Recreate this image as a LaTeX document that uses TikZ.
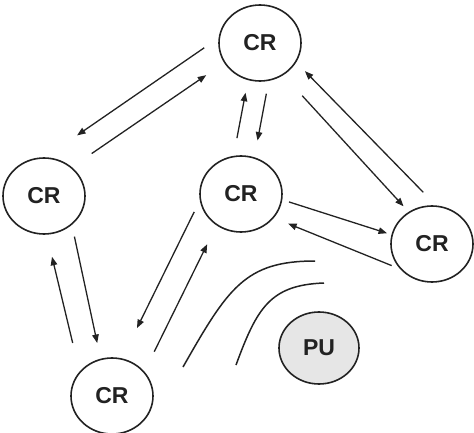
\documentclass[tikz,border=0pt]{standalone}
\usepackage{fontspec}
\setmainfont{Liberation Sans}
\usetikzlibrary{shapes.geometric,arrows.meta}
\definecolor{pugray}{HTML}{E6E6E6}
\definecolor{inkgray}{HTML}{222222}

\begin{document}
\begin{tikzpicture}[x=1pt, y=-1pt]
    \tikzstyle{crnode} = [ellipse, draw=inkgray, line width=1.6pt, inner sep=0pt, minimum width=82pt, minimum height=76pt, text=inkgray, font=\fontsize{23}{23}\selectfont\bfseries]
    \tikzstyle{link} = [draw=inkgray, line width=1.3pt, -{Triangle[length=8.5pt,width=6.5pt]}]
    \tikzstyle{wave} = [draw=inkgray, line width=1.5pt]

    \useasboundingbox (0,0) rectangle (474,433);

    % Radios
    \node[crnode] (crtop) at (260,43) {CR};
    \node[crnode] (crleft) at (44,196) {CR};
    \node[crnode] (crmid) at (241,194) {CR};
    \node[crnode] (crright) at (432,244) {CR};
    \node[crnode] (crbot) at (112,396) {CR};
    \node[crnode, fill=pugray, minimum width=80pt, minimum height=72pt] (pu) at (319,348) {PU};

    % Links
    \draw[link, shorten <=17.4pt, shorten >=38.5pt] (crtop.173) -- (crleft.88);
    \draw[link, shorten <=24pt, shorten >=21.7pt] (crleft.46) -- (crtop.209);
    \draw[link, shorten <=18pt, shorten >=12.8pt] (crmid.101) -- (crtop.252);
    \draw[link, shorten <=13pt, shorten >=17pt] (crtop.283) -- (crmid.70);
    \draw[link, shorten <=27.9pt, shorten >=7.5pt] (crtop.306) -- (crright.126);
    \draw[link, shorten <=18.3pt, shorten >=12.4pt] (crright.84) -- (crtop.332);
    \draw[link, shorten <=7pt, shorten >=4.6pt] (crmid.352) -- (crright.167);
    \draw[link, shorten <=9pt, shorten >=15.3pt] (crright.218) -- (crmid.324);
    \draw[link, shorten <=12pt, shorten >=16pt] (crleft.314) -- (crbot.107);
    \draw[link, shorten <=29.4pt, shorten >=22.7pt] (crbot.143) -- (crleft.274);
    \draw[link, shorten <=12.7pt, shorten >=33.7pt] (crmid.189) -- (crbot.75);
    \draw[link, shorten <=22.1pt, shorten >=21pt] (crbot.37) -- (crmid.232);

    % Signal fronts
    \draw[wave] (183,367) .. controls (228,288) and (245,261) .. (315,261);
    \draw[wave] (236,365) .. controls (257,308) and (270,285) .. (324,283);

\end{tikzpicture}
\end{document}
